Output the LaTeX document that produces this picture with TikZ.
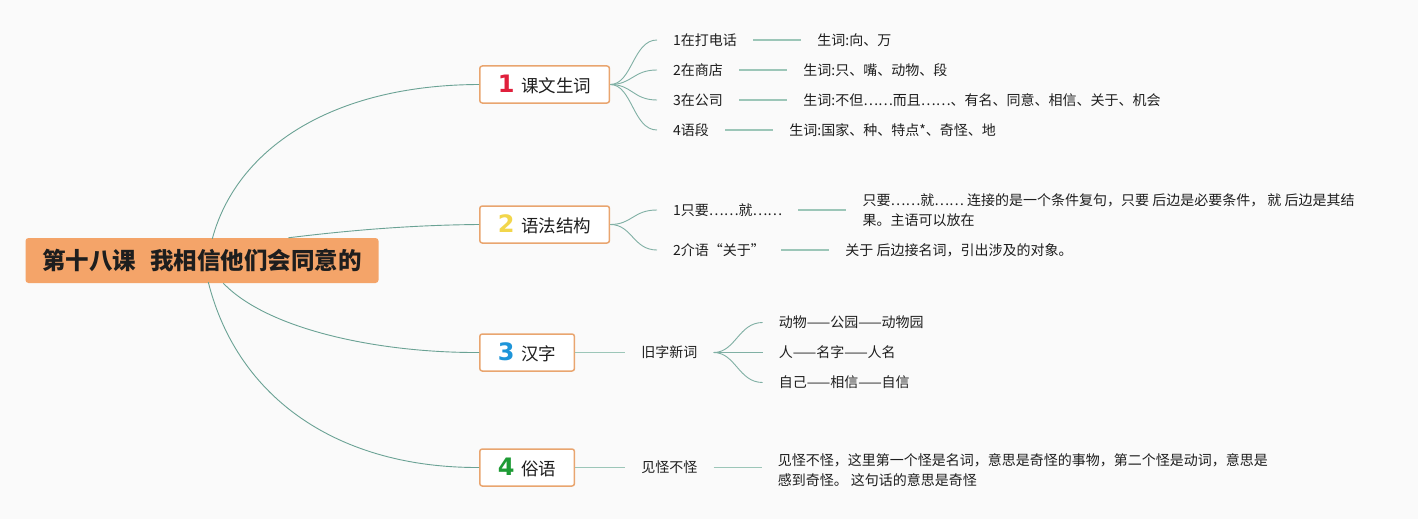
\documentclass[tikz,border=0pt]{standalone}
\usepackage{fontspec}
\setmainfont{Noto Sans CJK SC}
\newfontfamily\numfont{DejaVu Sans}
\usetikzlibrary{positioning,calc}
\definecolor{bgc}{HTML}{FAFAFA}
\definecolor{rootfill}{HTML}{F4A469}
\definecolor{boxline}{HTML}{E9A56F}
\definecolor{curvec}{HTML}{6AA294}
\definecolor{linec}{HTML}{9CC6B8}
\definecolor{txt}{HTML}{1E1E1E}
\definecolor{numa}{HTML}{E0203C}
\definecolor{numb}{HTML}{F2D64B}
\definecolor{numc}{HTML}{1E95D9}
\definecolor{numd}{HTML}{1E9B35}
\newcommand{\bignum}[2]{{\numfont\bfseries\fontsize{24}{24}\selectfont\color{#1}#2}}
\tikzset{
  rootbox/.style={fill=rootfill, rounded corners=3pt, minimum width=353pt, minimum height=45pt, inner sep=0pt,
    font=\bfseries\fontsize{23.5}{25}\selectfont, text=txt},
  branchbox/.style={draw=boxline, line width=1.5pt, fill=white, rounded corners=2.5pt, minimum height=37pt,
    inner xsep=18pt, inner ysep=0pt, font=\fontsize{17.5}{20}\selectfont, text=txt, anchor=west},
  leaf/.style={inner xsep=16pt, inner ysep=2pt, font=\fontsize{14}{20}\selectfont, text=txt, align=left},
  curve/.style={draw=curvec, line width=0.9pt},
  fan/.style={draw=curvec!85, line width=0.9pt},
  link/.style={draw=linec, line width=1.8pt}
}
\begin{document}
\begin{tikzpicture}[x=1pt,y=-1pt]
\path[fill=bgc] (0,0) rectangle (1418,519);

% root
\node[rootbox] (root) at (202,260.5) {第十八课\hspace{0.6em}我相信他们会同意的};

% branches
\node[branchbox] (b1) at (479,84.5) {\bignum{numa}{1}\hspace{0.4em}课文生词};
\node[branchbox] (b2) at (479,224.5) {\bignum{numb}{2}\hspace{0.4em}语法结构};
\node[branchbox] (b3) at (479,352.5) {\bignum{numc}{3}\hspace{0.4em}汉字};
\node[branchbox] (b4) at (479,467.5) {\bignum{numd}{4}\hspace{0.4em}俗语};

\coordinate (s1) at ($(root.north west)+(187,1)$);
\coordinate (s2) at ($(root.north west)+(263,0)$);
\coordinate (s3) at ($(root.south west)+(198,0)$);
\coordinate (s4) at ($(root.south west)+(183,-1)$);

\draw[curve] (s1) .. controls (236,150) and (330,85) .. (b1.west);
\draw[curve] (s2) .. controls (360,229) and (420,225) .. (b2.west);
\draw[curve] (s3) .. controls (268,330) and (380,353) .. (b3.west);
\draw[curve] (s4) .. controls (238,400) and (340,468) .. (b4.west);

% group 1
\node[leaf, anchor=west] (l11) at (657,40) {1在打电话};
\node[leaf, anchor=west] (l12) at (657,70) {2在商店};
\node[leaf, anchor=west] (l13) at (657,100) {3在公司};
\node[leaf, anchor=west] (l14) at (657,130) {4语段};
\node[leaf, right=48pt of l11] (l11a) {生词:向、万};
\node[leaf, right=48pt of l12] (l12a) {生词:只、嘴、动物、段};
\node[leaf, right=48pt of l13] (l13a) {生词:不但……而且……、有名、同意、相信、关于、机会};
\node[leaf, right=48pt of l14] (l14a) {生词:国家、种、特点*、奇怪、地};
\foreach \i in {11,12,13,14}{
  \draw[fan] (b1.east) .. controls +(22,0) and +(-24,0) .. (l\i.west);
  \draw[link] (l\i.east) -- (l\i a.west);
}

% group 2
\node[leaf, anchor=west] (l21) at (657,210) {1只要……就……};
\node[leaf, anchor=west] (l22) at (657,250) {2介语“关于”};
\node[leaf, right=48pt of l21] (l21a) {只要……就…… 连接的是一个条件复句，只要 后边是必要条件， 就 后边是其结\\果。主语可以放在};
\node[leaf, right=48pt of l22] (l22a) {关于 后边接名词，引出涉及的对象。};
\foreach \i in {21,22}{
  \draw[fan] (b2.east) .. controls +(22,0) and +(-24,0) .. (l\i.west);
  \draw[link] (l\i.east) -- (l\i a.west);
}

% group 3
\node[leaf, right=50pt of b3] (l3) {旧字新词};
\draw[link] (b3.east) -- (l3.west);
\node[leaf, anchor=west] (l31) at ($(l3.east)+(49,-30)$) {动物——公园——动物园};
\node[leaf, anchor=west] (l32) at ($(l3.east)+(49,0)$) {人——名字——人名};
\node[leaf, anchor=west] (l33) at ($(l3.east)+(49,30)$) {自己——相信——自信};
\foreach \i in {31,32,33}{
  \draw[fan] (l3.east) .. controls +(22,0) and +(-24,0) .. (l\i.west);
}

% group 4
\node[leaf, right=50pt of b4] (l4) {见怪不怪};
\draw[link] (b4.east) -- (l4.west);
\node[leaf, right=48pt of l4, yshift=-3pt] (l4a) {见怪不怪，这里第一个怪是名词，意思是奇怪的事物，第二个怪是动词，意思是\\感到奇怪。 这句话的意思是奇怪};
\draw[link] (l4.east) -- (l4.east -| l4a.west);
\end{tikzpicture}
\end{document}
